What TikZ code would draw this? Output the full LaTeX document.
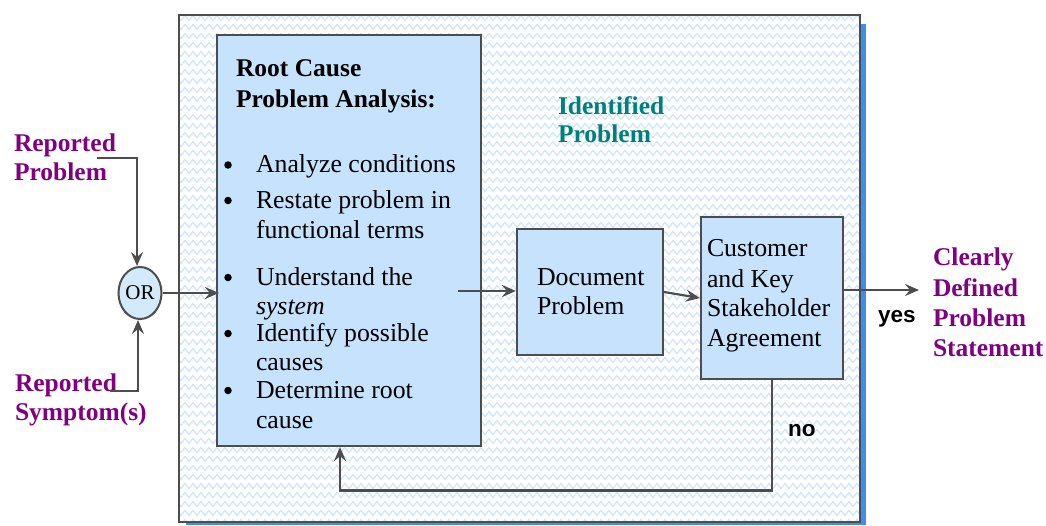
\documentclass[tikz,border=0pt]{standalone}
\usepackage{fontspec}
\setmainfont{Liberation Serif}
\newfontfamily\sansfont{Liberation Sans}
\usetikzlibrary{shapes.geometric,arrows.meta,decorations.pathmorphing}
\definecolor{boxblue}{HTML}{C6E2FC}
\definecolor{orblue}{HTML}{D3EAFC}
\definecolor{linegray}{HTML}{4D4D4D}
\definecolor{shadowblue}{HTML}{3A8FF0}
\definecolor{wavecol}{HTML}{D0E6FA}
\definecolor{labpurple}{HTML}{800080}
\definecolor{labteal}{HTML}{00807A}
\begin{document}
\begin{tikzpicture}[x=1pt,y=-1pt,
  font=\fontsize{25.8}{30}\selectfont,
  txt/.style={anchor=base west, inner sep=0pt, outer sep=0pt},
  bul/.style={circle, fill=black, inner sep=0pt, minimum size=7.5pt},
  lab/.style={txt, font=\fontsize{25.5}{30}\selectfont\bfseries, text=labpurple},
  yn/.style={txt, font=\fontsize{22.5}{26}\sansfont\bfseries},
  boxs/.style={draw=linegray, line width=2.2pt, fill=boxblue, inner sep=0pt},
  conn/.style={draw=linegray, line width=2.2pt, -{Stealth[length=14pt,width=12pt,inset=5pt]}},
  plain/.style={draw=linegray, line width=2.2pt}]
\useasboundingbox (0,0) rectangle (1046,525);
% frame with shadow and wavy background
\fill[shadowblue] (186,24) rectangle (866,525);
\fill[white] (179,15) rectangle (860,522);
\begin{scope}
  \clip (179,15) rectangle (860,522);
  \foreach \yy in {18,27,...,522}
    \draw[wavecol, line width=1.3pt, decorate, decoration={zigzag, segment length=8pt, amplitude=2.5pt}] (175,\yy) -- (866,\yy);
\end{scope}
\draw[linegray, line width=2.2pt] (179,15) rectangle (860,522);

% boxes
\node[boxs, minimum width=264pt, minimum height=411pt] (root) at (349,240.5) {};
\node[boxs, minimum width=146pt, minimum height=126pt] (doc) at (590,292) {};
\node[boxs, minimum width=142pt, minimum height=162pt] (cust) at (772,298) {};
\node[ellipse, draw=linegray, line width=2pt, fill=orblue, minimum width=43pt, minimum height=52pt, inner sep=0pt, font=\fontsize{21}{24}\selectfont] (or) at (140,293) {\kern-1pt OR\kern-1pt};

% root cause text
\node[txt, font=\fontsize{25.5}{30}\selectfont\bfseries] (t1) at (236,76) {Root Cause};
\node[txt, font=\fontsize{25.5}{30}\selectfont\bfseries] (t2) at (236,107) {Problem Analysis:};
\node[bul] (b1) at (228,165) {};
\node[txt] (l1) at (256,172.7) {Analyze conditions};
\node[bul] (b2) at (228,200.5) {};
\node[txt] (l2) at (256,208) {Restate problem in};
\node[txt] (l3) at (256,238) {functional terms};
\node[bul] (b3) at (228,277.5) {};
\node[txt] (l4) at (256,285) {Understand the};
\node[txt] (l5) at (256,314) {\textit{system}};
\node[bul] (b4) at (228,333.5) {};
\node[txt] (l6) at (256,341) {Identify possible};
\node[txt] (l7) at (256,370) {causes};
\node[bul] (b5) at (228,390.5) {};
\node[txt] (l8) at (256,398) {Determine root};
\node[txt] (l9) at (256,428) {cause};

% document / customer text
\node[txt] (d1) at (537,285) {Document};
\node[txt] (d2) at (537,314) {Problem};
\node[txt] (c1) at (707,256.7) {Customer};
\node[txt] (c2) at (707,287) {and Key};
\node[txt] (c3) at (707,316.7) {Stakeholder};
\node[txt] (c4) at (707,346.7) {Agreement};

% labels
\node[lab] (rp1) at (14,151.7) {Reported};
\node[lab] (rp2) at (14,180) {Problem};
\node[lab] (rs1) at (15,391) {Reported};
\node[lab] (rs2) at (15,420) {Symptom(s)};
\node[lab, text=labteal] (ip1) at (558,114.3) {Identified};
\node[lab, text=labteal] (ip2) at (558,142) {Problem};
\node[lab] (cd1) at (933,265) {Clearly};
\node[lab] (cd2) at (933,296) {Defined};
\node[lab] (cd3) at (933,326) {Problem};
\node[lab] (cd4) at (933,356) {Statement};
\node[yn] (yes) at (878,322.7) {yes};
\node[yn] (no) at (788,436.7) {no};

% connectors
\coordinate (rpstart) at (97,158.3);
\coordinate (rsstart) at (110,390.7);
\coordinate (rootout) at (458,291);
\coordinate (outend) at (919,290);
\coordinate (nocorner) at (340,490.5);
\draw[conn] (rpstart) -| ([xshift=-3pt]or.north);
\draw[conn] (rsstart) -| ([xshift=-2pt]or.south);
\draw[conn] (or.east) -- ([xshift=3pt]root.west |- or.east);
\draw[conn] (rootout) -- (doc.west |- rootout);
\draw[conn] (doc.east) -- (cust.west);
\draw[conn] (cust.east |- outend) -- (outend);
\draw[conn] (cust.south) |- (nocorner) -- (nocorner |- root.south);
\end{tikzpicture}
\end{document}
